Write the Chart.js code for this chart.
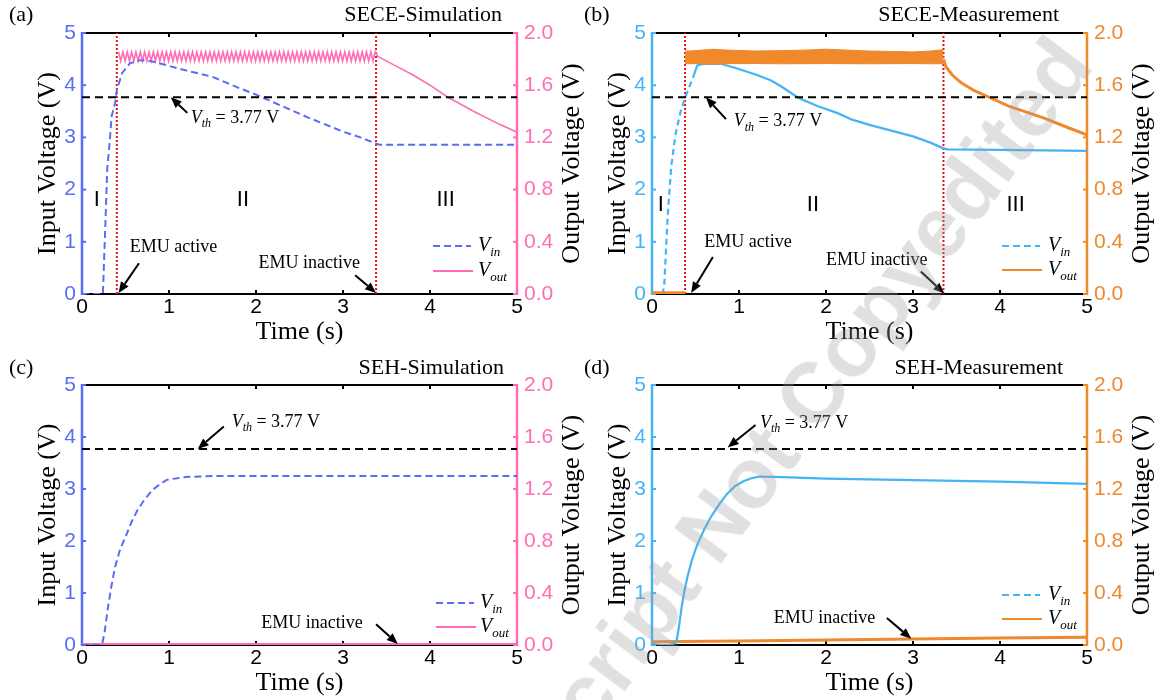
<!DOCTYPE html>
<html lang="en">
<head>
<meta charset="UTF-8">
<title>SECE / SEH input and output voltage</title>
<script src="https://cdn.jsdelivr.net/npm/chart.js"></script>
<style>
  body { margin: 0; background: #fff; }
  .figure { position: relative; width: 1158px; height: 700px; overflow: hidden; }
  .figure canvas { position: absolute; }
  #chartA { left: 0; top: 0; }
  #chartB { left: 560px; top: 0; }
  #chartC { left: 0; top: 350px; }
  #chartD { left: 560px; top: 350px; }
  .watermark {
    position: absolute; left: 740px; top: 490px;
    transform: translate(-50%, -50%) rotate(-53deg);
    font: bold 85px 'Liberation Sans', Arial, sans-serif;
    color: rgba(160, 160, 160, 0.32);
    white-space: nowrap; pointer-events: none;
  }
</style>
</head>
<body>
<div class="figure">
  <canvas id="chartA" width="600" height="350"></canvas>
  <canvas id="chartB" width="598" height="350"></canvas>
  <canvas id="chartC" width="600" height="350"></canvas>
  <canvas id="chartD" width="598" height="350"></canvas>
  <div class="watermark">Manuscript Not Copyedited</div>
</div>

<script>
// threshold voltage (V)
const vth = 3.77;

// (a) SECE - simulation
const simSeceT   = [0, 0.24, 0.27, 0.29, 0.32, 0.34, 0.38, 0.40, 0.46, 0.55, 0.67, 0.80, 1.00, 1.20, 1.50, 1.80, 2.00, 2.30, 2.60, 3.00, 3.20, 3.38, 3.42, 5.00];
const simSeceVin = [0, 0, 1.4, 2.4, 2.95, 3.4, 3.66, 3.9, 4.23, 4.42, 4.48, 4.46, 4.37, 4.28, 4.16, 3.95, 3.82, 3.6, 3.38, 3.11, 3.0, 2.88, 2.86, 2.86];
const simSeceOutT = [
  0.42, 0.445, 0.47, 0.495, 0.52, 0.545, 0.57, 0.595, 0.62, 0.645,
  0.67, 0.695, 0.72, 0.745, 0.77, 0.795, 0.82, 0.845, 0.87, 0.895,
  0.92, 0.945, 0.97, 0.995, 1.02, 1.045, 1.07, 1.095, 1.12, 1.145,
  1.17, 1.195, 1.22, 1.245, 1.27, 1.295, 1.32, 1.345, 1.37, 1.395,
  1.42, 1.445, 1.47, 1.495, 1.52, 1.545, 1.57, 1.595, 1.62, 1.645,
  1.67, 1.695, 1.72, 1.745, 1.77, 1.795, 1.82, 1.845, 1.87, 1.895,
  1.92, 1.945, 1.97, 1.995, 2.02, 2.045, 2.07, 2.095, 2.12, 2.145,
  2.17, 2.195, 2.22, 2.245, 2.27, 2.295, 2.32, 2.345, 2.37, 2.395,
  2.42, 2.445, 2.47, 2.495, 2.52, 2.545, 2.57, 2.595, 2.62, 2.645,
  2.67, 2.695, 2.72, 2.745, 2.77, 2.795, 2.82, 2.845, 2.87, 2.895,
  2.92, 2.945, 2.97, 2.995, 3.02, 3.045, 3.07, 3.095, 3.12, 3.145,
  3.17, 3.195, 3.22, 3.245, 3.27, 3.295, 3.32, 3.345, 3.37,
  3.40, 3.60, 3.80, 4.00, 4.20, 4.50, 4.80, 5.00];
const simSeceVout = [
  1.855, 1.785, 1.855, 1.785, 1.855, 1.785, 1.855, 1.785, 1.855, 1.785,
  1.855, 1.785, 1.855, 1.785, 1.855, 1.785, 1.855, 1.785, 1.855, 1.785,
  1.855, 1.785, 1.855, 1.785, 1.855, 1.785, 1.855, 1.785, 1.855, 1.785,
  1.855, 1.785, 1.855, 1.785, 1.855, 1.785, 1.855, 1.785, 1.855, 1.785,
  1.855, 1.785, 1.855, 1.785, 1.855, 1.785, 1.855, 1.785, 1.855, 1.785,
  1.855, 1.785, 1.855, 1.785, 1.855, 1.785, 1.855, 1.785, 1.855, 1.785,
  1.855, 1.785, 1.855, 1.785, 1.855, 1.785, 1.855, 1.785, 1.855, 1.785,
  1.855, 1.785, 1.855, 1.785, 1.855, 1.785, 1.855, 1.785, 1.855, 1.785,
  1.855, 1.785, 1.855, 1.785, 1.855, 1.785, 1.855, 1.785, 1.855, 1.785,
  1.855, 1.785, 1.855, 1.785, 1.855, 1.785, 1.855, 1.785, 1.855, 1.785,
  1.855, 1.785, 1.855, 1.785, 1.855, 1.785, 1.855, 1.785, 1.855, 1.785,
  1.855, 1.785, 1.855, 1.785, 1.855, 1.785, 1.855, 1.785, 1.855,
  1.82, 1.75, 1.68, 1.60, 1.51, 1.40, 1.30, 1.24];
const simSeceEmu = [0.40, 3.38];

// (b) SECE - measurement
const meaSeceT   = [0, 0.12, 0.14, 0.18, 0.22, 0.27, 0.33, 0.38, 0.47, 0.52, 0.60, 0.79, 0.98, 1.20, 1.37, 1.50, 1.68, 1.90, 2.14, 2.30, 2.50, 2.75, 3.00, 3.20, 3.35, 3.40, 4.00, 4.50, 5.00];
const meaSeceVin = [0, 0, 0.15, 1.48, 2.43, 3.06, 3.5, 3.76, 4.14, 4.38, 4.41, 4.41, 4.32, 4.2, 4.09, 3.96, 3.76, 3.6, 3.46, 3.34, 3.24, 3.13, 3.02, 2.9, 2.79, 2.77, 2.76, 2.75, 2.74];
const meaSeceBandT  = [0.38, 0.50, 0.70, 0.90, 1.20, 1.50, 1.80, 2.00, 2.20, 2.50, 2.80, 3.00, 3.20, 3.35];
const meaSeceBandHi = [1.86, 1.865, 1.875, 1.868, 1.862, 1.865, 1.87, 1.876, 1.87, 1.862, 1.858, 1.855, 1.862, 1.872];
const meaSeceBandLo = [1.765, 1.765, 1.762, 1.765, 1.766, 1.764, 1.765, 1.766, 1.765, 1.764, 1.765, 1.766, 1.764, 1.765];
const meaSeceOffT = [0, 0.38];
const meaSeceOffV = [0.01, 0.01];
const meaSeceDecayT = [3.35, 3.38, 3.45, 3.55, 3.70, 3.90, 4.10, 4.50, 4.80, 5.00];
const meaSeceDecayV = [1.80, 1.74, 1.68, 1.62, 1.56, 1.50, 1.44, 1.35, 1.27, 1.22];
const meaSeceEmu = [0.38, 3.35];

// (c) SEH - simulation
const simSehT    = [0, 0.23, 0.26, 0.30, 0.34, 0.38, 0.44, 0.51, 0.57, 0.64, 0.72, 0.81, 0.90, 0.98, 1.19, 1.50, 2.00, 3.00, 4.00, 5.00];
const simSehVin  = [0, 0, 0.25, 0.74, 1.15, 1.5, 1.85, 2.12, 2.37, 2.6, 2.8, 2.98, 3.1, 3.18, 3.23, 3.25, 3.25, 3.25, 3.25, 3.25];
const simSehOutT = [0, 5];
const simSehVout = [0.004, 0.004];

// (d) SEH - measurement
const meaSehT    = [0, 0.10, 0.20, 0.28, 0.31, 0.34, 0.37, 0.41, 0.46, 0.52, 0.60, 0.68, 0.77, 0.86, 0.95, 1.05, 1.15, 1.24, 1.50, 2.00, 3.00, 4.00, 5.00];
const meaSehVin  = [0.02, 0, 0, 0.05, 0.35, 0.72, 1.02, 1.33, 1.64, 1.93, 2.22, 2.47, 2.7, 2.9, 3.05, 3.15, 3.21, 3.24, 3.23, 3.2, 3.17, 3.14, 3.1];
const meaSehOutT = [0, 1, 2, 3, 4, 5];
const meaSehVout = [0.025, 0.03, 0.038, 0.046, 0.053, 0.06];

const SANS = "'Liberation Sans', Arial, sans-serif";
const SERIF = "'Liberation Serif', 'Times New Roman', serif";
const simBlue = '#5a6cf6';
const pink = '#ff6eb4';
const meaBlue = '#45b4f4';
const orange = '#f0882c';
const red = '#e3141b';

const pts = (t, v) => t.map((x, i) => ({ x: x, y: v[i] }));

function thresholdSet() {
  return { data: pts([0, 5], [vth, vth]), yAxisID: 'y', borderColor: '#000', borderWidth: 2, borderDash: [8, 5] };
}
function emuSets(times) {
  return times.map(t => ({ data: pts([t, t], [0, 5]), yAxisID: 'y', borderColor: red, borderWidth: 2, borderDash: [2, 2] }));
}

function line(ctx, x1, y1, x2, y2) {
  ctx.beginPath(); ctx.moveTo(x1, y1); ctx.lineTo(x2, y2); ctx.stroke();
}

function drawV(ctx, x, y, sub, size, subSize, rest) {
  ctx.textAlign = 'left';
  ctx.textBaseline = 'middle';
  ctx.font = `italic ${size}px ${SERIF}`;
  ctx.fillText('V', x, y);
  x += ctx.measureText('V').width;
  ctx.font = `italic ${subSize}px ${SERIF}`;
  ctx.fillText(sub, x, y + size * 0.32);
  x += ctx.measureText(sub).width;
  if (rest) {
    ctx.font = `${size}px ${SERIF}`;
    ctx.fillText(rest, x, y);
  }
}

function arrow(ctx, x1, y1, x2, y2) {
  const ang = Math.atan2(y2 - y1, x2 - x1);
  const head = 11;
  const bx = x2 - head * Math.cos(ang), by = y2 - head * Math.sin(ang);
  line(ctx, x1, y1, bx, by);
  ctx.beginPath();
  ctx.moveTo(x2, y2);
  ctx.lineTo(bx + 4.5 * Math.sin(ang), by - 4.5 * Math.cos(ang));
  ctx.lineTo(bx - 4.5 * Math.sin(ang), by + 4.5 * Math.cos(ang));
  ctx.closePath();
  ctx.fill();
}

// spines, inner tick marks, labels, legend and annotations for one panel
function panelPlugin(p) {
  return {
    id: 'panel',
    beforeDatasetsDraw(chart) {
      const { ctx, chartArea: a, scales } = chart;
      ctx.save();
      ctx.lineWidth = 2;
      ctx.strokeStyle = '#000';
      line(ctx, a.left, a.top, a.right, a.top);
      line(ctx, a.left, a.bottom, a.right, a.bottom);
      scales.x.ticks.forEach(tk => {
        if (tk.value <= 0 || tk.value >= 5) return;
        const x = scales.x.getPixelForValue(tk.value);
        line(ctx, x, a.bottom, x, a.bottom - 4);
        line(ctx, x, a.top, x, a.top + 4);
      });
      ctx.lineWidth = 2.5;
      ctx.strokeStyle = p.inColor;
      line(ctx, a.left, a.top - 1, a.left, a.bottom + 1);
      ctx.lineWidth = 2;
      scales.y.ticks.forEach(tk => {
        const y = scales.y.getPixelForValue(tk.value);
        line(ctx, a.left, y, a.left + 4, y);
      });
      ctx.lineWidth = 2.5;
      ctx.strokeStyle = p.outColor;
      line(ctx, a.right, a.top - 1, a.right, a.bottom + 1);
      ctx.lineWidth = 2;
      scales.y1.ticks.forEach(tk => {
        const y = scales.y1.getPixelForValue(tk.value);
        line(ctx, a.right, y, a.right - 4, y);
      });
      ctx.restore();
    },
    afterDatasetsDraw(chart) {
      const { ctx, chartArea: a, scales } = chart;
      const X = t => scales.x.getPixelForValue(t);
      const Y = v => scales.y.getPixelForValue(v);
      ctx.save();
      ctx.fillStyle = '#000';
      ctx.strokeStyle = '#000';
      ctx.lineWidth = 2;
      p.notes.forEach(n => {
        if (n.kind === 'vth') {
          drawV(ctx, X(n.t), Y(n.v), 'th', 18, 12, ' = 3.77 V');
        } else if (n.kind === 'text') {
          ctx.font = `18px ${SERIF}`;
          ctx.textAlign = 'left';
          ctx.textBaseline = 'middle';
          ctx.fillText(n.text, X(n.t), Y(n.v));
        } else if (n.kind === 'region') {
          ctx.font = `22px ${SANS}`;
          ctx.textAlign = 'center';
          ctx.textBaseline = 'middle';
          ctx.fillText(n.text, X(n.t), Y(n.v));
        } else if (n.kind === 'arrow') {
          arrow(ctx, X(n.from[0]), Y(n.from[1]), X(n.to[0]), Y(n.to[1]));
        }
      });

      // legend
      const lg = p.legend;
      const lx = a.right + lg.dx;
      const ly1 = a.bottom + lg.y1, ly2 = a.bottom + lg.y2;
      ctx.lineWidth = 2;
      ctx.strokeStyle = p.inColor;
      ctx.setLineDash([7, 4]);
      line(ctx, lx, ly1, lx + 38, ly1);
      ctx.setLineDash([]);
      ctx.strokeStyle = p.outColor;
      line(ctx, lx, ly2, lx + 40, ly2);
      ctx.fillStyle = '#000';
      drawV(ctx, a.right + lg.tx, ly1, 'in', 20, 13);
      drawV(ctx, a.right + lg.tx, ly2, 'out', 20, 13);
      ctx.restore();
    },
    afterDraw(chart) {
      const { ctx, chartArea: a } = chart;
      ctx.save();
      ctx.fillStyle = '#000';
      ctx.textBaseline = 'middle';
      ctx.font = `22px ${SERIF}`;
      ctx.textAlign = 'left';
      ctx.fillText(p.tag, p.tagX, p.headY);
      ctx.textAlign = 'right';
      ctx.fillText(p.title, p.titleRight, p.headY);

      ctx.font = `26px ${SERIF}`;
      ctx.textAlign = 'center';
      ctx.fillText('Time (s)', (a.left + a.right) / 2, a.bottom + 38);
      const midY = (a.top + a.bottom) / 2;
      ctx.translate(a.left - 34, midY);
      ctx.rotate(-Math.PI / 2);
      ctx.fillText('Input Voltage (V)', 0, 0);
      ctx.rotate(Math.PI / 2);
      ctx.translate(a.right - a.left + 34 + 55, 0);
      ctx.rotate(-Math.PI / 2);
      ctx.fillText('Output Voltage (V)', 0, 0);
      ctx.restore();
    }
  };
}

function makePanel(id, p) {
  const tickFont = { family: SANS, size: 21 };
  return new Chart(document.getElementById(id), {
    type: 'line',
    data: { datasets: p.datasets },
    options: {
      responsive: false,
      animation: false,
      layout: { padding: { top: p.top, left: 0, right: 0, bottom: 0 } },
      elements: { point: { radius: 0 }, line: { tension: 0, fill: false } },
      plugins: { legend: { display: false }, tooltip: { enabled: false } },
      scales: {
        x: {
          type: 'linear', min: 0, max: 5,
          ticks: { stepSize: 1, color: '#000', font: tickFont, padding: 1, maxRotation: 0 },
          grid: { display: false, drawTicks: false },
          border: { display: false },
          afterFit: s => { s.height = p.xH; }
        },
        y: {
          position: 'left', min: 0, max: 5,
          ticks: { stepSize: 1, color: p.inColor, font: tickFont, padding: 6 },
          grid: { display: false, drawTicks: false },
          border: { display: false },
          afterFit: s => { s.width = p.yW; }
        },
        y1: {
          position: 'right', min: 0, max: 2,
          ticks: { stepSize: 0.4, color: p.outColor, font: tickFont, padding: 7, callback: v => v.toFixed(1) },
          grid: { display: false, drawTicks: false },
          border: { display: false },
          afterFit: s => { s.width = p.y1W; }
        }
      }
    },
    plugins: [panelPlugin(p)]
  });
}

makePanel('chartA', {
  tag: '(a)', title: 'SECE-Simulation', tagX: 9, titleRight: 502, headY: 15,
  top: 33, xH: 56, yW: 82, y1W: 83,
  inColor: simBlue, outColor: pink,
  legend: { dx: -84, tx: -39, y1: -48, y2: -23 },
  datasets: [
    thresholdSet(),
    { data: pts(simSeceT, simSeceVin), yAxisID: 'y', borderColor: simBlue, borderWidth: 2, borderDash: [7, 4] },
    { data: pts(simSeceOutT, simSeceVout), yAxisID: 'y1', borderColor: pink, borderWidth: 1.6 },
    ...emuSets(simSeceEmu)
  ],
  notes: [
    { kind: 'vth', t: 1.25, v: 3.37 },
    { kind: 'arrow', from: [1.21, 3.47], to: [1.02, 3.77] },
    { kind: 'text', text: 'EMU active', t: 0.55, v: 0.9 },
    { kind: 'arrow', from: [0.655, 0.59], to: [0.42, 0.02] },
    { kind: 'text', text: 'EMU inactive', t: 2.03, v: 0.59 },
    { kind: 'arrow', from: [3.14, 0.36], to: [3.38, 0.02] },
    { kind: 'region', text: 'I', t: 0.17, v: 1.8 },
    { kind: 'region', text: 'II', t: 1.85, v: 1.8 },
    { kind: 'region', text: 'III', t: 4.18, v: 1.8 }
  ]
});

makePanel('chartB', {
  tag: '(b)', title: 'SECE-Measurement', tagX: 24, titleRight: 499, headY: 15,
  top: 33, xH: 56, yW: 92, y1W: 71,
  inColor: meaBlue, outColor: orange,
  legend: { dx: -85, tx: -39, y1: -48, y2: -24 },
  datasets: [
    thresholdSet(),
    { data: pts(meaSeceBandT, meaSeceBandHi), yAxisID: 'y1', borderColor: orange, borderWidth: 1, backgroundColor: orange, fill: '+1' },
    { data: pts(meaSeceBandT, meaSeceBandLo), yAxisID: 'y1', borderColor: orange, borderWidth: 1 },
    { data: pts(meaSeceOffT, meaSeceOffV), yAxisID: 'y1', borderColor: orange, borderWidth: 3 },
    { data: pts(meaSeceDecayT, meaSeceDecayV), yAxisID: 'y1', borderColor: orange, borderWidth: 3 },
    {
      data: pts(meaSeceT, meaSeceVin), yAxisID: 'y', borderColor: meaBlue, borderWidth: 2.2,
      segment: { borderDash: ctx => ctx.p1.parsed.x <= 0.5 ? [6, 4] : undefined }
    },
    ...emuSets(meaSeceEmu)
  ],
  notes: [
    { kind: 'vth', t: 0.94, v: 3.3 },
    { kind: 'arrow', from: [0.85, 3.35], to: [0.62, 3.77] },
    { kind: 'text', text: 'EMU active', t: 0.6, v: 1.0 },
    { kind: 'arrow', from: [0.70, 0.71], to: [0.45, 0.02] },
    { kind: 'text', text: 'EMU inactive', t: 2.0, v: 0.65 },
    { kind: 'arrow', from: [3.09, 0.43], to: [3.36, 0.01] },
    { kind: 'region', text: 'I', t: 0.10, v: 1.7 },
    { kind: 'region', text: 'II', t: 1.85, v: 1.7 },
    { kind: 'region', text: 'III', t: 4.18, v: 1.7 }
  ]
});

makePanel('chartC', {
  tag: '(c)', title: 'SEH-Simulation', tagX: 9, titleRight: 504, headY: 18,
  top: 35, xH: 55, yW: 82, y1W: 83,
  inColor: simBlue, outColor: pink,
  legend: { dx: -81, tx: -37, y1: -42, y2: -18 },
  datasets: [
    thresholdSet(),
    { data: pts(simSehT, simSehVin), yAxisID: 'y', borderColor: simBlue, borderWidth: 2, borderDash: [7, 4] },
    { data: pts(simSehOutT, simSehVout), yAxisID: 'y1', borderColor: pink, borderWidth: 3 }
  ],
  notes: [
    { kind: 'vth', t: 1.72, v: 4.29 },
    { kind: 'arrow', from: [1.63, 4.2], to: [1.33, 3.77] },
    { kind: 'text', text: 'EMU inactive', t: 2.06, v: 0.42 },
    { kind: 'arrow', from: [3.38, 0.4], to: [3.63, 0.02] }
  ]
});

makePanel('chartD', {
  tag: '(d)', title: 'SEH-Measurement', tagX: 24, titleRight: 503, headY: 18,
  top: 35, xH: 55, yW: 92, y1W: 71,
  inColor: meaBlue, outColor: orange,
  legend: { dx: -85, tx: -39, y1: -50, y2: -26 },
  datasets: [
    thresholdSet(),
    { data: pts(meaSehT, meaSehVin), yAxisID: 'y', borderColor: meaBlue, borderWidth: 2.2 },
    { data: pts(meaSehOutT, meaSehVout), yAxisID: 'y1', borderColor: orange, borderWidth: 3 }
  ],
  notes: [
    { kind: 'vth', t: 1.24, v: 4.27 },
    { kind: 'arrow', from: [1.19, 4.23], to: [0.87, 3.8] },
    { kind: 'text', text: 'EMU inactive', t: 1.4, v: 0.52 },
    { kind: 'arrow', from: [2.7, 0.52], to: [2.98, 0.12] }
  ]
});
</script>
</body>
</html>
